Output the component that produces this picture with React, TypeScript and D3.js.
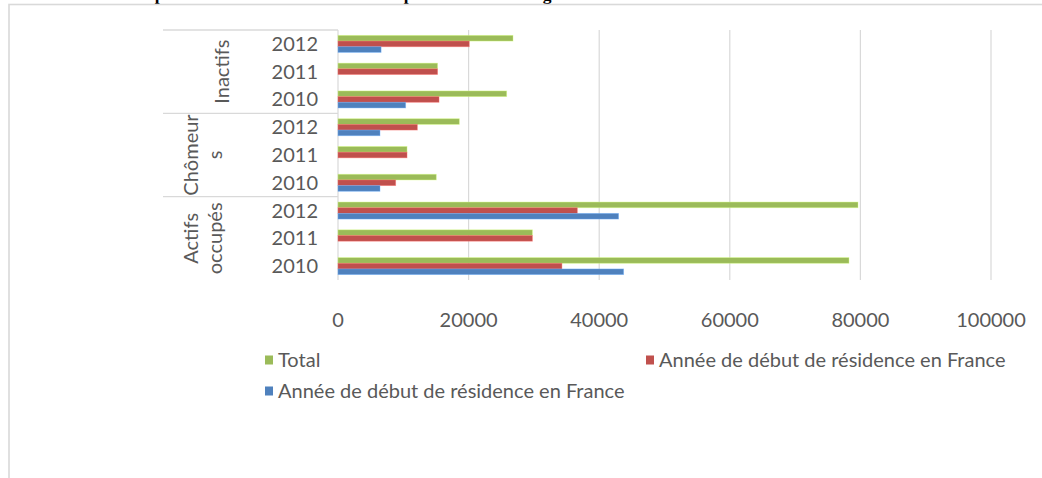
import React from "react";
import * as d3 from "d3";

// ---- data ----
const groups = ["Actifs occupés", "Chômeurs", "Inactifs"];
const groupLabelLines = [["Actifs", "occupés"], ["Chômeur", "s"], ["Inactifs"]];
const years = ["2010", "2011", "2012"];
// order: Actifs 2010,2011,2012, Chômeurs 2010,2011,2012, Inactifs 2010,2011,2012
const totalValues = [78250, 29770, 79630, 15050, 10570, 18580, 25830, 15250, 26800];
const redValues = [34290, 29770, 36650, 8830, 10570, 12150, 15470, 15250, 20100];
const blueValues: (number | null)[] = [43740, null, 42970, 6430, null, 6430, 10360, null, 6600];
const xTicks = [0, 20000, 40000, 60000, 80000, 100000];
const seriesNames = ["Total", "Année de début de résidence en France", "Année de début de résidence en France"];
const seriesColors = ["#9BBB59", "#C0504D", "#4F81BD"];
const title = "Tableau 3 : Répartition des actifs et des inactifs par année selon l'âge";

const W = 1042;
const H = 478;
const FONT = "Lato, 'Open Sans', sans-serif";
const TEXT = "#595959";
const GRID = "#d9d9d9";

export default function App() {
  const left = 338;
  const right = 991;
  const top = 30;
  const bottom = 280;
  const x = d3.scaleLinear().domain([0, 100000]).range([left, right]);

  const keys: string[] = [];
  groups.forEach((g) => years.forEach((y) => keys.push(g + "|" + y)));
  const yBand = d3.scaleBand<string>().domain(keys).range([bottom, top]).padding(0);
  const bw = yBand.bandwidth();
  const inner = d3
    .scaleBand<number>()
    .domain([0, 1, 2])
    .range([(bw - 17) / 2, (bw + 17) / 2])
    .padding(0);

  const series = [totalValues, redValues, blueValues];

  const groupSpan = groups.map((g) => {
    const ys = years.map((y) => yBand(g + "|" + y)!);
    const y0 = d3.min(ys)!;
    const y1 = d3.max(ys)! + bw;
    return [y0, y1];
  });

  return (
    <div style={{ position: "absolute", left: 0, top: 0 }}>
      <svg width={W} height={H} style={{ display: "block", background: "#fff" }}>
        <text
          x={47}
          y={-0.5}
          fontFamily="'Liberation Serif', 'Times New Roman', serif"
          fontWeight="bold"
          fontSize={17.5}
          fill="#000"
        >
          {title}
        </text>
        {/* chart frame */}
        <rect x={9} y={4.5} width={1100} height={600} fill="none" stroke={GRID} strokeWidth={1.6} />

        {/* gridlines */}
        {xTicks.map((t) => (
          <line key={"g" + t} x1={x(t)} x2={x(t)} y1={top} y2={bottom} stroke={GRID} strokeWidth={1.2} />
        ))}

        {/* category axis boundaries */}
        {[top, ...groupSpan.map((s) => s[0])].map((yy, i) => (
          <line key={"b" + i} x1={163} x2={left} y1={yy} y2={yy} stroke={GRID} strokeWidth={1.2} />
        ))}

        {/* bars */}
        {keys.map((k, i) =>
          series.map((vals, si) => {
            const v = vals[i];
            if (v == null) return null;
            const c = seriesColors[si];
            return (
              <rect
                key={k + si}
                x={x(0)}
                y={yBand(k)! + inner(si)!}
                width={x(v) - x(0)}
                height={inner.bandwidth()}
                fill={c}
                stroke={d3.color(c)!.brighter(0.9).formatHex()}
                strokeOpacity={0.5}
                strokeWidth={0.8}
              />
            );
          })
        )}

        {/* year labels */}
        {keys.map((k) => (
          <text
            key={"yl" + k}
            x={318}
            y={yBand(k)! + bw / 2 + 7}
            textAnchor="end"
            fontFamily={FONT}
            fontSize={20}
            fill={TEXT}
          >
            {k.split("|")[1]}
          </text>
        ))}

        {/* group labels (rotated) */}
        {groupLabelLines.map((lines, gi) => {
          const cy = (groupSpan[gi][0] + groupSpan[gi][1]) / 2;
          const x0 = lines.length === 1 ? 222 : 191;
          return (
            <g key={"gl" + gi} transform={`translate(${x0},${cy}) rotate(-90)`}>
              {lines.map((ln, li) => (
                <text
                  key={li}
                  x={0}
                  y={li * 24}
                  dy="0.35em"
                  textAnchor="middle"
                  fontFamily={FONT}
                  fontSize={20}
                  fill={TEXT}
                >
                  {ln}
                </text>
              ))}
            </g>
          );
        })}

        {/* x tick labels */}
        {xTicks.map((t) => (
          <text
            key={"t" + t}
            x={x(t)}
            y={327}
            textAnchor="middle"
            fontFamily={FONT}
            fontSize={20}
            fill={TEXT}
          >
            {String(t)}
          </text>
        ))}

        {/* legend */}
        {[
          { si: 0, lx: 265, ly: 360 },
          { si: 1, lx: 646, ly: 360 },
          { si: 2, lx: 265, ly: 391 },
        ].map(({ si, lx, ly }) => (
          <g key={"lg" + si}>
            <rect x={lx} y={ly - 4.5} width={8} height={9} fill={seriesColors[si]} />
            <text x={lx + 13} y={ly + 7} fontFamily={FONT} fontSize={20} fill={TEXT}>
              {seriesNames[si]}
            </text>
          </g>
        ))}
      </svg>
    </div>
  );
}
